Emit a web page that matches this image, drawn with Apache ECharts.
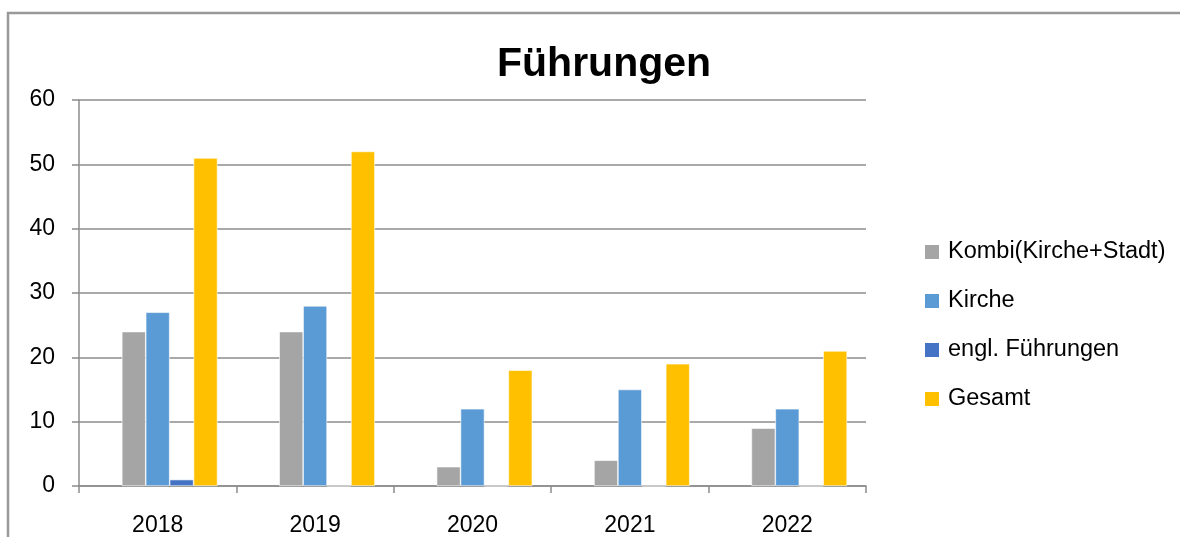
<!DOCTYPE html>
<html>
<head>
<meta charset="utf-8">
<script src="https://cdn.jsdelivr.net/npm/echarts@6/dist/echarts.min.js"></script>
<style>
  html, body { margin: 0; padding: 0; background: #fff; }
  #chart { width: 1180px; height: 537px; }
</style>
</head>
<body>
<div id="chart"></div>
<script>
// Guided tours per year
const years = ['2018', '2019', '2020', '2021', '2022'];
const leerSlot = [null, null, null, null, null];  // empty leading slot in each year group
const kombi = [24, 24, 3, 4, 9];          // Kombi(Kirche+Stadt)
const kirche = [27, 28, 12, 15, 12];      // Kirche
const englisch = [1, 0, 0, 0, 0];         // engl. Führungen
const gesamt = [51, 52, 18, 19, 21];      // Gesamt
const yTicks = [0, 10, 20, 30, 40, 50, 60];

const font = '"Liberation Sans", Arial, sans-serif';
const lineColor = '#8c8c8c';

function barSeries(name, data, color) {
  return {
    name: name,
    type: 'bar',
    data: data,
    barGap: '0%',
    barCategoryGap: '24%',
    itemStyle: { color: color, borderColor: '#ffffff', borderWidth: 0.6 },
    emphasis: { disabled: true }
  };
}

const chart = echarts.init(document.getElementById('chart'));
chart.setOption({
  animation: false,
  backgroundColor: '#ffffff',
  title: {
    text: 'Führungen',
    left: 497,
    top: 44,
    padding: 0,
    textStyle: { fontFamily: font, fontSize: 41, fontWeight: 'bold', color: '#000' }
  },
  legend: {
    orient: 'vertical',
    left: 923,
    top: 240,
    padding: 0,
    itemWidth: 16,
    itemHeight: 16,
    itemGap: 25,
    icon: 'rect',
    textStyle: { fontFamily: font, fontSize: 23.5, color: '#000', padding: [0, 0, 0, 3] },
    data: ['Kombi(Kirche+Stadt)', 'Kirche', 'engl. Führungen', 'Gesamt']
  },
  grid: { left: 79, right: 314, top: 100, bottom: 51 },
  xAxis: {
    type: 'category',
    data: years,
    axisLine: { show: true, lineStyle: { color: lineColor, width: 1.5 } },
    axisTick: { show: true, length: 7, lineStyle: { color: lineColor, width: 1.5 } },
    axisLabel: { fontFamily: font, fontSize: 23, color: '#000', margin: 28 }
  },
  yAxis: {
    type: 'value',
    min: yTicks[0],
    max: yTicks[yTicks.length - 1],
    interval: 10,
    axisLine: { show: true, lineStyle: { color: lineColor, width: 1.5 } },
    axisTick: { show: true, length: 7, lineStyle: { color: lineColor, width: 1.5 } },
    splitLine: { show: true, lineStyle: { color: lineColor, width: 1.5 } },
    axisLabel: { fontFamily: font, fontSize: 23, color: '#000', margin: 24 }
  },
  series: [
    barSeries('', leerSlot, 'transparent'),
    barSeries('Kombi(Kirche+Stadt)', kombi, '#a5a5a5'),
    barSeries('Kirche', kirche, '#5b9bd5'),
    barSeries('engl. Führungen', englisch, '#4472c4'),
    barSeries('Gesamt', gesamt, '#ffc000')
  ],
  graphic: [
    {
      type: 'polyline',
      silent: true,
      shape: { points: [[8, 540], [8, 13], [1185, 13]] },
      style: { stroke: '#999999', lineWidth: 2.5, fill: null }
    }
  ]
});
</script>
</body>
</html>
